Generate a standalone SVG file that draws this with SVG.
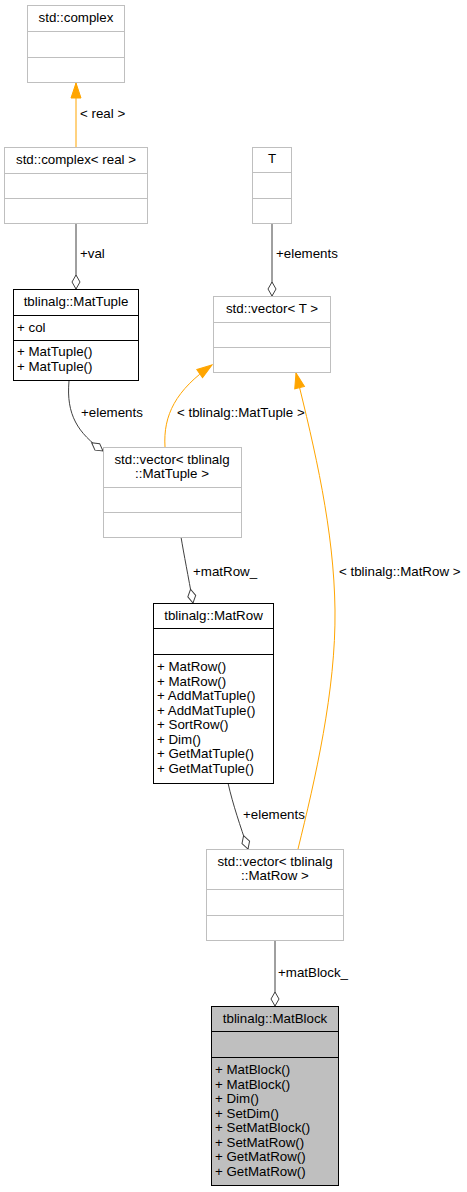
<svg xmlns="http://www.w3.org/2000/svg" width="467" height="1192" viewBox="0 0 467 1192">
<style>
text{font-family:"Liberation Sans",Arial,sans-serif;font-size:13.33px;fill:#000}
.c{text-anchor:middle}
.ext{fill:#fff;stroke:#bfbfbf;stroke-width:1}
.cls{fill:#fff;stroke:#000;stroke-width:1}
.cur{fill:#bfbfbf;stroke:#000;stroke-width:1}
.dext{stroke:#bfbfbf;stroke-width:1}
.dcls{stroke:#000;stroke-width:1}
.use{fill:none;stroke:#404040;stroke-width:1;marker-end:url(#dia)}
.inh{fill:none;stroke:#ffa500;stroke-width:1;marker-end:url(#arr)}
</style>
<defs>
<marker id="dia" markerUnits="userSpaceOnUse" markerWidth="16" markerHeight="10" refX="14" refY="5" orient="auto" overflow="visible">
<path d="M0,5 L7,1 L14,5 L7,9 Z" fill="#fff" stroke="#404040" stroke-width="1"/>
</marker>
<marker id="arr" markerUnits="userSpaceOnUse" markerWidth="16" markerHeight="11" refX="15" refY="5" orient="auto" overflow="visible">
<path d="M0,0 L15,5 L0,10 Z" fill="#ffa500" stroke="#ffa500" stroke-width="1"/>
</marker>
</defs>

<g id="connectors">
<path class="inh" d="M76,147 L76,83"/>
<text x="80" y="118">&lt; real &gt;</text>
<path class="use" d="M76,223 L76,289"/>
<text x="80" y="258">+val</text>
<path class="use" d="M272,223 L272,296"/>
<text x="276" y="258">+elements</text>
<path class="use" d="M69,381 C66,415 78,433 103,451"/>
<text x="81" y="417">+elements</text>
<path class="inh" d="M165,447 C163,415 176,390 212,365"/>
<text x="177" y="417">&lt; tblinalg::MatTuple &gt;</text>
<path class="inh" d="M298,849 C315,780 336,690 335,610 C334,530 315,450 296,373"/>
<text x="339" y="576">&lt; tblinalg::MatRow &gt;</text>
<path class="use" d="M181,537 C184,555 188,575 193,603"/>
<text x="193" y="576">+matRow_</text>
<path class="use" d="M228,783 C233,805 240,825 248,849"/>
<text x="243" y="819">+elements</text>
<path class="use" d="M275,940 L275,1006"/>
<text x="278" y="977">+matBlock_</text>
</g>

<g id="std_complex">
<rect class="ext" x="27.5" y="5.5" width="97" height="77"/>
<line class="dext" x1="27.5" y1="31.5" x2="124.5" y2="31.5"/>
<line class="dext" x1="27.5" y1="57.5" x2="124.5" y2="57.5"/>
<text class="c" x="76" y="22">std::complex</text>
</g>

<g id="std_complex_real">
<rect class="ext" x="4.5" y="147.5" width="143" height="76"/>
<line class="dext" x1="4.5" y1="173.5" x2="147.5" y2="173.5"/>
<line class="dext" x1="4.5" y1="198.5" x2="147.5" y2="198.5"/>
<text class="c" x="76" y="164">std::complex&lt; real &gt;</text>
</g>

<g id="T">
<rect class="ext" x="252.5" y="147.5" width="39" height="76"/>
<line class="dext" x1="252.5" y1="172.5" x2="291.5" y2="172.5"/>
<line class="dext" x1="252.5" y1="198.5" x2="291.5" y2="198.5"/>
<text class="c" x="272" y="163">T</text>
</g>

<g id="std_vector_T">
<rect class="ext" x="213.5" y="296.5" width="117" height="76"/>
<line class="dext" x1="213.5" y1="322.5" x2="330.5" y2="322.5"/>
<line class="dext" x1="213.5" y1="347.5" x2="330.5" y2="347.5"/>
<text class="c" x="272" y="313">std::vector&lt; T &gt;</text>
</g>

<g id="MatTuple">
<rect class="cls" x="13.5" y="289.5" width="125" height="91"/>
<line class="dcls" x1="13.5" y1="315.5" x2="138.5" y2="315.5"/>
<line class="dcls" x1="13.5" y1="340.5" x2="138.5" y2="340.5"/>
<text class="c" x="76" y="306">tblinalg::MatTuple</text>
<text x="17" y="332">+ col</text>
<text x="17" y="356">+ MatTuple()</text>
<text x="17" y="370.5">+ MatTuple()</text>
</g>

<g id="std_vector_MatTuple">
<rect class="ext" x="103.5" y="447.5" width="138" height="90"/>
<line class="dext" x1="103.5" y1="487.5" x2="241.5" y2="487.5"/>
<line class="dext" x1="103.5" y1="512.5" x2="241.5" y2="512.5"/>
<text class="c" x="172" y="464">std::vector&lt; tblinalg</text>
<text class="c" x="172" y="478">::MatTuple &gt;</text>
</g>

<g id="MatRow">
<rect class="cls" x="153.5" y="603.5" width="120" height="180"/>
<line class="dcls" x1="153.5" y1="628.5" x2="273.5" y2="628.5"/>
<line class="dcls" x1="153.5" y1="654.5" x2="273.5" y2="654.5"/>
<text class="c" x="213.5" y="620">tblinalg::MatRow</text>
<text x="157" y="671">+ MatRow()</text>
<text x="157" y="685.5">+ MatRow()</text>
<text x="157" y="700">+ AddMatTuple()</text>
<text x="157" y="714.5">+ AddMatTuple()</text>
<text x="157" y="729">+ SortRow()</text>
<text x="157" y="743.5">+ Dim()</text>
<text x="157" y="758">+ GetMatTuple()</text>
<text x="157" y="772.5">+ GetMatTuple()</text>
</g>

<g id="std_vector_MatRow">
<rect class="ext" x="206.5" y="849.5" width="137" height="91"/>
<line class="dext" x1="206.5" y1="889.5" x2="343.5" y2="889.5"/>
<line class="dext" x1="206.5" y1="915.5" x2="343.5" y2="915.5"/>
<text class="c" x="275" y="866">std::vector&lt; tblinalg</text>
<text class="c" x="275" y="880">::MatRow &gt;</text>
</g>

<g id="MatBlock">
<rect class="cur" x="211.5" y="1006.5" width="127" height="179"/>
<line class="dcls" x1="211.5" y1="1031.5" x2="338.5" y2="1031.5"/>
<line class="dcls" x1="211.5" y1="1057.5" x2="338.5" y2="1057.5"/>
<text class="c" x="275" y="1023">tblinalg::MatBlock</text>
<text x="215" y="1074">+ MatBlock()</text>
<text x="215" y="1088.5">+ MatBlock()</text>
<text x="215" y="1103">+ Dim()</text>
<text x="215" y="1117.5">+ SetDim()</text>
<text x="215" y="1132">+ SetMatBlock()</text>
<text x="215" y="1146.5">+ SetMatRow()</text>
<text x="215" y="1161">+ GetMatRow()</text>
<text x="215" y="1175.5">+ GetMatRow()</text>
</g>
</svg>
